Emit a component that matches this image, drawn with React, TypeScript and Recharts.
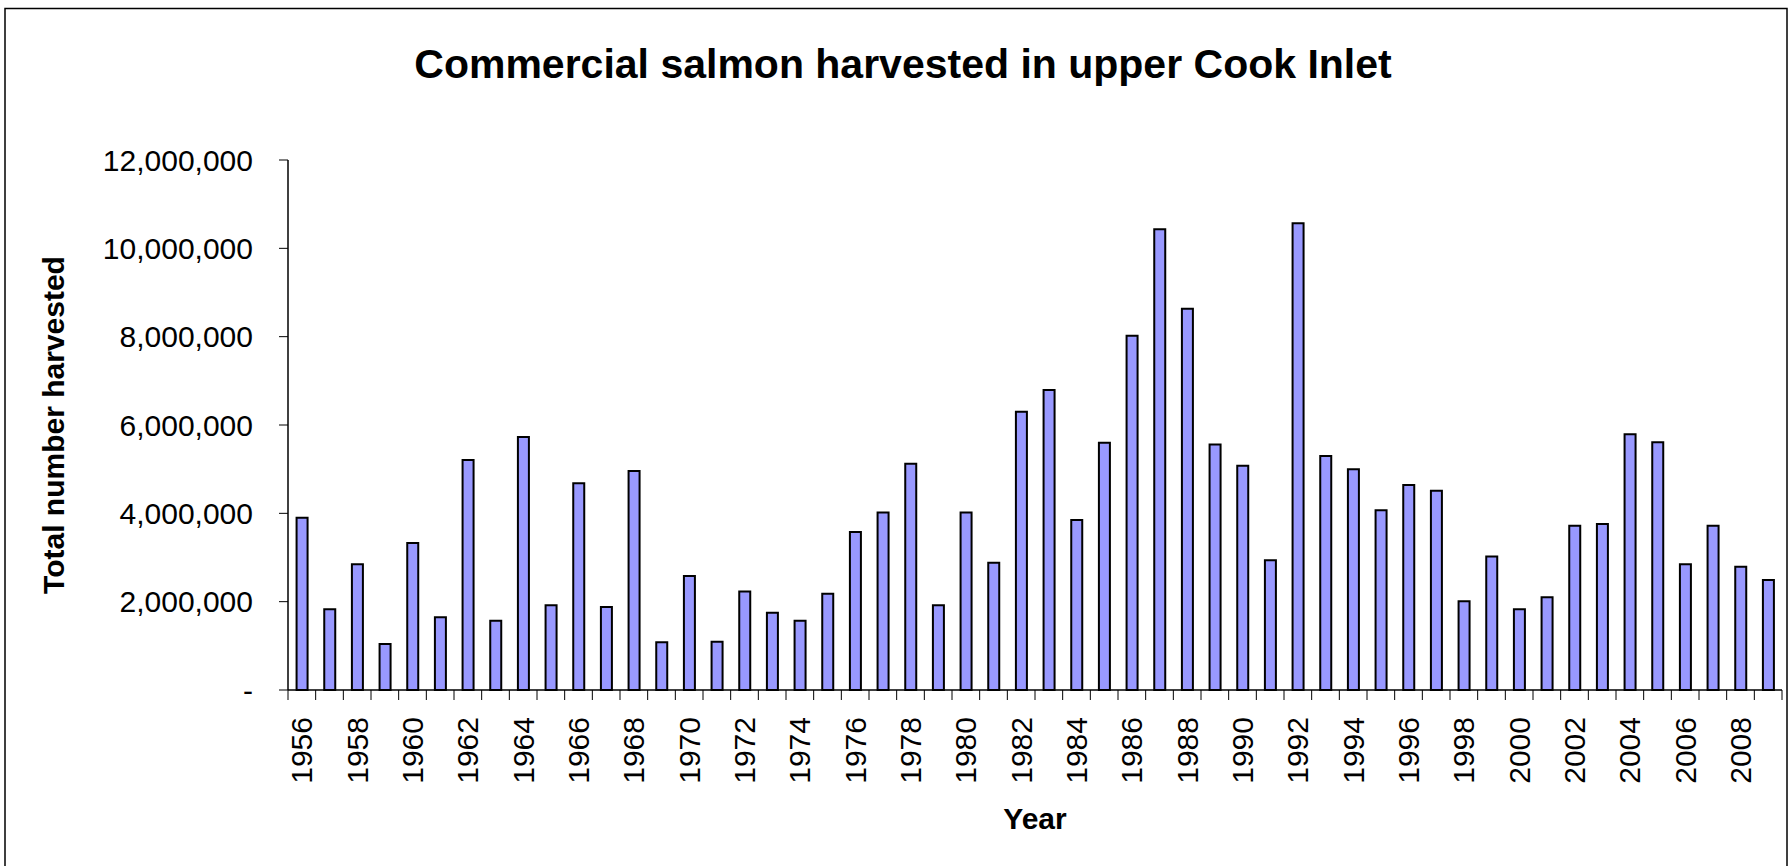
import { BarChart, Bar, XAxis, YAxis } from 'recharts';

const years = [
  '1956', '1957', '1958', '1959', '1960', '1961', '1962', '1963', '1964', '1965',
  '1966', '1967', '1968', '1969', '1970', '1971', '1972', '1973', '1974', '1975',
  '1976', '1977', '1978', '1979', '1980', '1981', '1982', '1983', '1984', '1985',
  '1986', '1987', '1988', '1989', '1990', '1991', '1992', '1993', '1994', '1995',
  '1996', '1997', '1998', '1999', '2000', '2001', '2002', '2003', '2004', '2005',
  '2006', '2007', '2008', '2009',
];

// total salmon harvested per year
const harvest = [
  3900000, 1830000, 2850000, 1040000, 3330000, 1650000, 5210000, 1570000, 5730000, 1920000,
  4680000, 1880000, 4960000, 1080000, 2580000, 1090000, 2230000, 1750000, 1570000, 2180000,
  3580000, 4020000, 5120000, 1920000, 4020000, 2880000, 6300000, 6790000, 3850000, 5600000,
  8020000, 10430000, 8630000, 5560000, 5080000, 2940000, 10570000, 5300000, 5000000, 4070000,
  4640000, 4510000, 2010000, 3020000, 1830000, 2100000, 3720000, 3760000, 5790000, 5610000,
  2850000, 3720000, 2790000, 2490000,
];

const yTicks = [0, 2000000, 4000000, 6000000, 8000000, 10000000, 12000000];

const data = years.map((year, i) => ({ year, harvest: harvest[i] }));

const FONT = '"Liberation Sans", Arial, sans-serif';
const WIDTH = 1790;
const HEIGHT = 866;
const Y_AXIS_W = 288;
const X_AXIS_H = 176;
const RIGHT = 8;
const band = (WIDTH - Y_AXIS_W - RIGHT) / years.length;

const fmt = (v: number) => (v === 0 ? '-' : v.toLocaleString('en-US'));

// Excel style: tick marks sit between categories, label every other year
function YearTick(props: any) {
  const { x, y, payload, index } = props;
  const left = x - band / 2;
  const tx = x + 10.5;
  const ty = y + 27;
  return (
    <g>
      <line x1={left} x2={left} y1={y} y2={y + 10} stroke="#000" />
      {index === years.length - 1 && (
        <line x1={x + band / 2} x2={x + band / 2} y1={y} y2={y + 10} stroke="#000" />
      )}
      {index % 2 === 0 && (
        <text
          x={tx}
          y={ty}
          transform={`rotate(-90 ${tx} ${ty})`}
          textAnchor="end"
          fontSize={30}
          fontFamily={FONT}
          fill="#000"
        >
          {payload.value}
        </text>
      )}
    </g>
  );
}

export default function App() {
  return (
    <div
      style={{
        position: 'absolute',
        left: 0,
        top: 0,
        width: WIDTH,
        height: HEIGHT,
        background: '#fff',
        overflow: 'hidden',
      }}
    >
      <BarChart
        width={WIDTH}
        height={HEIGHT}
        data={data}
        margin={{ top: 160, right: RIGHT, bottom: 0, left: 0 }}
        barCategoryGap="31%"
      >
        <XAxis
          dataKey="year"
          interval={0}
          height={X_AXIS_H}
          tickLine={false}
          tickSize={0}
          tickMargin={0}
          axisLine={{ stroke: '#000', strokeWidth: 1.5 }}
          tick={<YearTick />}
        />
        <YAxis
          width={Y_AXIS_W}
          domain={[0, 12000000]}
          ticks={yTicks}
          tickFormatter={fmt}
          tickSize={9}
          tickMargin={26}
          axisLine={{ stroke: '#000', strokeWidth: 1.5 }}
          tickLine={{ stroke: '#000' }}
          tick={{ fontSize: 30, fontFamily: FONT, fill: '#000' }}
        />
        <Bar
          dataKey="harvest"
          fill="#9999FF"
          stroke="#000"
          strokeWidth={2}
          isAnimationActive={false}
        />
      </BarChart>
      <svg
        width={WIDTH}
        height={HEIGHT}
        style={{ position: 'absolute', left: 0, top: 0, pointerEvents: 'none' }}
      >
        <rect x={5} y={8.5} width={1782} height={900} fill="none" stroke="#000" strokeWidth={1.5} />
        <text
          x={903}
          y={78}
          textAnchor="middle"
          fontSize={41}
          fontWeight="bold"
          fontFamily={FONT}
          fill="#000"
        >
          Commercial salmon harvested in upper Cook Inlet
        </text>
        <text
          x={1035}
          y={829}
          textAnchor="middle"
          fontSize={30}
          fontWeight="bold"
          fontFamily={FONT}
          fill="#000"
        >
          Year
        </text>
        <text
          x={64}
          y={425}
          transform="rotate(-90 64 425)"
          textAnchor="middle"
          fontSize={30}
          fontWeight="bold"
          fontFamily={FONT}
          fill="#000"
        >
          Total number harvested
        </text>
      </svg>
    </div>
  );
}
